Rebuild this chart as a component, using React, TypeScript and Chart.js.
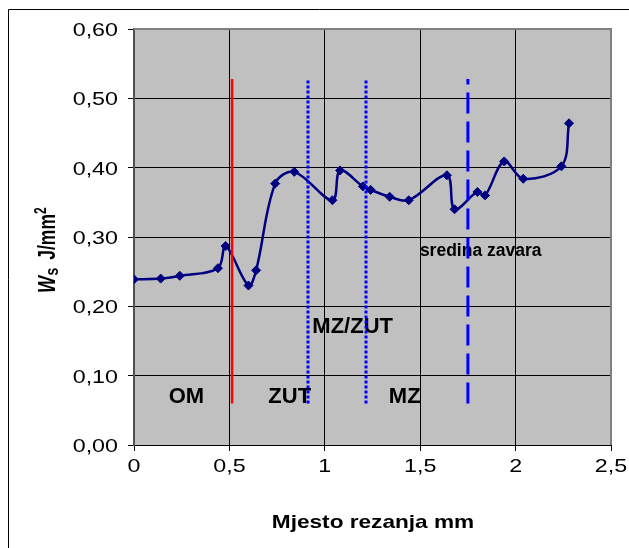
import React, { useEffect, useRef } from "react";
import { Chart, registerables } from "chart.js";

Chart.register(...registerables);

// ---- data ----
const positionsMm = [0, 0.14, 0.24, 0.44, 0.48, 0.6, 0.64, 0.74, 0.84, 1.04, 1.08, 1.2, 1.24, 1.34, 1.44, 1.64, 1.68, 1.8, 1.84, 1.94, 2.04, 2.24, 2.28];
const wsValues = [0.239, 0.24, 0.244, 0.255, 0.287, 0.23, 0.252, 0.377, 0.394, 0.353, 0.396, 0.373, 0.368, 0.358, 0.353, 0.389, 0.34, 0.365, 0.36, 0.409, 0.384, 0.402, 0.464];

const boundaryX = [0.514, 0.912, 1.216, 1.75];
const boundaryYRange = [0.06, 0.528];

const zoneLabels = ["OM", "ZUT", "MZ", "MZ/ZUT", "sredina zavara"];
const zoneLabelX = [0.275, 0.816, 1.419, 1.146, 1.817];
const zoneLabelY = [0.072, 0.072, 0.072, 0.173, 0.282];

const xAxisTitle = "Mjesto rezanja mm";
const yAxisTitleParts = ["W", "s", "J/mm", "2"];

const X_MIN = 0, X_MAX = 2.5, X_STEP = 0.5;
const Y_MIN = 0, Y_MAX = 0.6, Y_STEP = 0.1;

// ---- styling ----
const SX = 1.33;
const FONT = '"Liberation Sans", Arial, sans-serif';

function stretchedText(ctx: CanvasRenderingContext2D, text: string, x: number, y: number, font: string, align: CanvasTextAlign, sx: number) {
  ctx.save();
  ctx.translate(x, y);
  ctx.scale(sx, 1);
  ctx.font = font;
  ctx.textAlign = align;
  ctx.textBaseline = "alphabetic";
  ctx.fillStyle = "#000";
  ctx.fillText(text, 0, 0);
  ctx.restore();
}

const fmtComma = (v: number, d: number) => v.toFixed(d).replace(".", ",");
const fmtX = (v: number) => String(Math.round(v * 10) / 10).replace(".", ",");

const excelPlugin = {
  id: "excelLook",
  beforeDraw(chart: any) {
    const { ctx, chartArea: a } = chart;
    ctx.save();
    ctx.strokeStyle = "#000";
    ctx.lineWidth = 1;
    ctx.beginPath();
    ctx.moveTo(8.5, 600);
    ctx.lineTo(8.5, 9.5);
    ctx.lineTo(700, 9.5);
    ctx.stroke();
    ctx.fillStyle = "#C0C0C0";
    ctx.fillRect(a.left, a.top, a.right - a.left, a.bottom - a.top);
    ctx.restore();
  },
  beforeDatasetsDraw(chart: any) {
    const { ctx, chartArea: a, scales } = chart;
    ctx.save();
    ctx.strokeStyle = "#808080";
    ctx.lineWidth = 2;
    ctx.beginPath();
    ctx.moveTo(a.left, a.top);
    ctx.lineTo(a.right, a.top);
    ctx.lineTo(a.right, a.bottom);
    ctx.stroke();
    ctx.restore();
    // zone labels (under the boundary lines)
    zoneLabels.forEach((t, i) => {
      const px = scales.x.getPixelForValue(zoneLabelX[i]);
      const py = scales.y.getPixelForValue(zoneLabelY[i]);
      const size = i === 4 ? 17.5 : 22;
      stretchedText(ctx, t, px, py + size * 0.358, `bold ${size}px ${FONT}`, "center", 1);
    });
  },
  afterDraw(chart: any) {
    const { ctx, scales, chartArea: a } = chart;
    const xs = scales.x, ys = scales.y;
    const tickFont = `17.5px ${FONT}`;
    ys.ticks.forEach((t: any) => {
      const py = ys.getPixelForValue(t.value);
      stretchedText(ctx, fmtComma(t.value, 2), 118, py + 7, tickFont, "right", SX);
    });
    xs.ticks.forEach((t: any) => {
      const px = xs.getPixelForValue(t.value);
      stretchedText(ctx, fmtX(t.value), px, 472, tickFont, "center", SX);
    });
    // x title
    stretchedText(ctx, xAxisTitle, (a.left + a.right) / 2 + 0.5, 528, `bold 19px ${FONT}`, "center", 1.19);
    // y title rotated
    ctx.save();
    ctx.translate(55, 293);
    ctx.scale(SX, 1);
    ctx.rotate(-Math.PI / 2);
    ctx.fillStyle = "#000";
    ctx.textBaseline = "alphabetic";
    ctx.textAlign = "left";
    let u = 0;
    ctx.font = `italic bold 18px ${FONT}`;
    ctx.fillText(yAxisTitleParts[0], u, 0);
    u += ctx.measureText(yAxisTitleParts[0]).width + 0.5;
    ctx.font = `bold 14px ${FONT}`;
    ctx.fillText(yAxisTitleParts[1], u, 2.5);
    u += ctx.measureText(yAxisTitleParts[1]).width + 8;
    ctx.font = `bold 17.5px ${FONT}`;
    ctx.fillText(yAxisTitleParts[2], u, 0);
    u += ctx.measureText(yAxisTitleParts[2]).width;
    ctx.font = `bold 12px ${FONT}`;
    ctx.fillText(yAxisTitleParts[3], u, -7);
    ctx.restore();
  },
};

export default function App() {
  const ref = useRef<HTMLCanvasElement | null>(null);
  useEffect(() => {
    if (!ref.current) return;
    const series = positionsMm.map((x, i) => ({ x, y: wsValues[i] }));
    const boundaryStyles = [
      { color: "#FF0000", dash: [] as number[], width: 2.5 },
      { color: "#0000FF", dash: [3, 2], width: 3 },
      { color: "#0000FF", dash: [3, 2], width: 3 },
      { color: "#0000FF", dash: [21, 8], width: 3 },
    ];
    const boundaryDatasets = boundaryX.map((bx, i) => ({
      label: "b" + i,
      data: boundaryYRange.map((y) => ({ x: bx, y })),
      borderColor: boundaryStyles[i].color,
      borderWidth: boundaryStyles[i].width,
      borderDash: boundaryStyles[i].dash,
      borderCapStyle: "butt" as const,
      pointRadius: 0,
      tension: 0,
      order: 0,
    }));
    const chart = new Chart(ref.current, {
      type: "line",
      data: {
        datasets: [
          {
            label: "Ws",
            data: series,
            borderColor: "#000080",
            backgroundColor: "#000080",
            borderWidth: 2.5,
            pointStyle: "rectRot",
            pointRadius: 4.5,
            pointBorderWidth: 1,
            pointBackgroundColor: "#000080",
            pointBorderColor: "#000080",
            tension: 0.35,
            order: 1,
          },
          ...boundaryDatasets,
        ],
      },
      options: {
        animation: false,
        responsive: false,
        devicePixelRatio: 1,
        layout: { padding: { left: 0, top: 29, right: 18, bottom: 0 } },
        plugins: { legend: { display: false }, tooltip: { enabled: false }, title: { display: false } },
        scales: {
          x: {
            type: "linear",
            min: X_MIN,
            max: X_MAX,
            ticks: { stepSize: X_STEP, display: false },
            grid: { color: "#000", lineWidth: 1, tickLength: 6, drawTicks: true, tickColor: "#000" },
            border: { color: "#000", width: 1 },
            afterFit(s: any) { s.height = 103; },
          },
          y: {
            type: "linear",
            min: Y_MIN,
            max: Y_MAX,
            ticks: { stepSize: Y_STEP, display: false },
            grid: { color: "#000", lineWidth: 1, tickLength: 6, drawTicks: true, tickColor: "#000" },
            border: { color: "#505050", width: 2 },
            afterFit(s: any) { s.width = 134; },
          },
        },
      },
      plugins: [excelPlugin],
    });
    return () => chart.destroy();
  }, []);
  return (
    <div style={{ position: "absolute", left: 0, top: 0, width: 629, height: 548, background: "#fff" }}>
      <canvas ref={ref} width={629} height={548} style={{ display: "block" }} />
    </div>
  );
}
